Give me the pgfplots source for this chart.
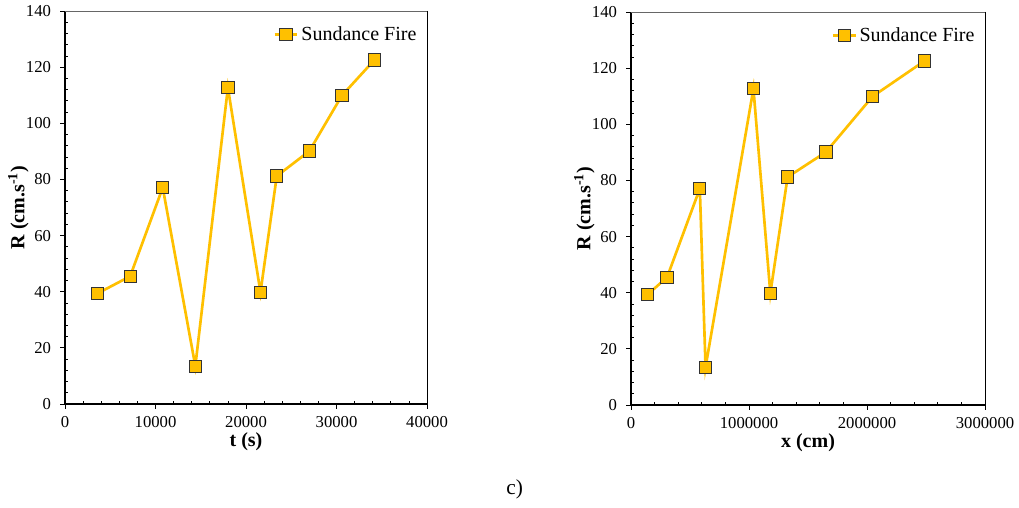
\documentclass[border=0pt]{standalone}
\usepackage{fontspec}
\setmainfont{Liberation Serif}
\usepackage{pgfplots}
\pgfplotsset{compat=1.18}
\definecolor{gold}{HTML}{FFC000}
\pgfplotsset{
  fireplot/.style={
    scale only axis, height=294.75pt,
    axis lines=left, axis line style={-, line width=1.1pt, black},
    tick align=inside,
    major tick length=-3.8pt, minor tick length=2.6pt,
    tick style={black, line width=0.6pt},
    ymin=0, ymax=140, ytick={0,20,...,140}, minor y tick num=4,
    minor x tick num=4,
    tick label style={font=\fontsize{12.5}{14}\selectfont},
    /pgf/number format/fixed,
    /pgf/number format/assume math mode=true,
    /pgf/number format/1000 sep={},
    scaled x ticks=false, scaled y ticks=false,
    xticklabel style={yshift=-6pt},
    yticklabel style={xshift=-7pt},
    every axis y label/.style={at={(rel axis cs:0,0.5)}, rotate=90, anchor=center, yshift=35pt,
      font=\fontsize{15}{17}\selectfont\bfseries},
    every axis x label/.style={at={(rel axis cs:0.5,0)}, anchor=center, yshift=-28.5pt,
      font=\fontsize{15}{17}\selectfont\bfseries},
    ylabel={R (cm.s\textsuperscript{-1})},
    legend style={draw=none, fill=none, at={(rel axis cs:0.99,0.975)}, anchor=north east,
      font=\fontsize{15}{17}\selectfont},
    legend cell align=left,
    clip=false,
  },
  fireline/.style={color=gold, line width=2pt, mark=square*,
    mark size=4.6pt, mark options={fill=gold, draw=black!80, line width=0.7pt}},
}
\begin{document}
\begin{tikzpicture}
\useasboundingbox (0,0) rectangle (764.25pt,380.25pt);
\begin{axis}[fireplot, width=271.5pt, at={(48.75pt,77.25pt)}, anchor=south west,
  xmin=0, xmax=40000, xtick={0,10000,...,40000},
  xlabel={t (s)}]
  \addplot[fireline] coordinates {
    (3600,39.4)(7200,45.5)(10800,77.1)(14400,13.5)(18000,112.7)
    (21600,39.8)(23400,81.2)(27000,90.1)(30600,109.9)(34200,122.6)};
  \addlegendentry{Sundance Fire}
  \draw[black!60, line width=0.5pt] (rel axis cs:0,1) -- (rel axis cs:1,1);
  \draw[black, line width=0.6pt] (rel axis cs:1,1) -- (rel axis cs:1,0);
\end{axis}
\begin{axis}[fireplot, width=265.5pt, at={(473.25pt,76.5pt)}, anchor=south west,
  xmin=0, xmax=3000000, xtick={0,1000000,...,3000000},
  xlabel={x (cm)}]
  \addplot[fireline] coordinates {
    (141840,39.4)(305640,45.5)(583200,77.1)(631800,13.5)(1037520,112.7)
    (1180800,39.8)(1326960,81.2)(1651320,90.1)(2046960,109.9)(2488320,122.6)};
  \addlegendentry{Sundance Fire}
  \draw[black!60, line width=0.5pt] (rel axis cs:0,1) -- (rel axis cs:1,1);
  \draw[black, line width=0.6pt] (rel axis cs:1,1) -- (rel axis cs:1,0);
\end{axis}
\node[font=\fontsize{16}{18}\selectfont] at (386pt,13.5pt) {c)};
\end{tikzpicture}
\end{document}
